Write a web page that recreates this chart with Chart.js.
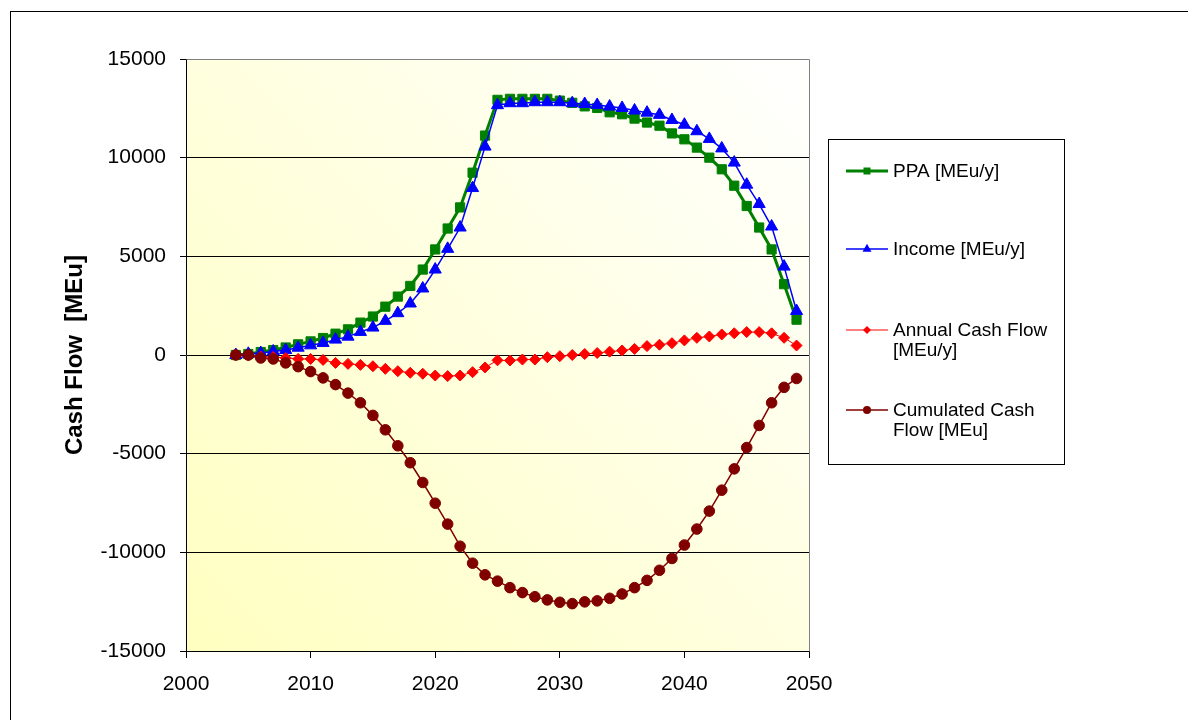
<!DOCTYPE html>
<html>
<head>
<meta charset="utf-8">
<title>Cash Flow</title>
<script src="https://cdn.jsdelivr.net/npm/chart.js@4.4.1/dist/chart.umd.min.js"></script>
<style>
  html, body { margin: 0; padding: 0; background: #ffffff; }
  #wrap { position: relative; width: 1188px; height: 720px; overflow: hidden; }
  #frame { position: absolute; left: 10px; top: 11px; width: 1300px; height: 800px;
           border-left: 1px solid #000; border-top: 1px solid #000; }
  #c { position: absolute; left: 0; top: 0; }
</style>
</head>
<body>
<div id="wrap">
  <div id="frame"></div>
  <canvas id="c" width="1188" height="720"></canvas>
</div>
<script>
// Years of the projection
const years = [
  2004, 2005, 2006, 2007, 2008, 2009, 2010, 2011, 2012, 2013,
  2014, 2015, 2016, 2017, 2018, 2019, 2020, 2021, 2022, 2023,
  2024, 2025, 2026, 2027, 2028, 2029, 2030, 2031, 2032, 2033,
  2034, 2035, 2036, 2037, 2038, 2039, 2040, 2041, 2042, 2043,
  2044, 2045, 2046, 2047, 2048, 2049
];

// PPA [MEu/y]
const ppa = [
  0, 50, 150, 250, 380, 540, 690, 860, 1080, 1300,
  1640, 1950, 2450, 2960, 3500, 4330, 5350, 6410, 7480, 9240,
  11120, 12930, 12980, 12980, 12980, 12980, 12890, 12780, 12600, 12520,
  12300, 12200, 11980, 11780, 11620, 11230, 10930, 10510, 10000, 9410,
  8580, 7550, 6460, 5350, 3590, 1790
];

// Income [MEu/y]
const income = [
  0, 60, 100, 180, 250, 370, 490, 610, 780, 930,
  1170, 1390, 1730, 2120, 2610, 3370, 4330, 5380, 6460, 8460,
  10560, 12660, 12760, 12760, 12810, 12810, 12810, 12760, 12720, 12670,
  12590, 12520, 12390, 12280, 12170, 11910, 11670, 11340, 10950, 10470,
  9750, 8630, 7650, 6510, 4480, 2230
];

// Annual Cash Flow [MEu/y]
const annualCashFlow = [
  0, -20, -80, -100, -150, -200, -200, -250, -400, -450,
  -500, -570, -700, -820, -900, -950, -1040, -1070, -1040, -870,
  -630, -270, -280, -230, -230, -110, -60, 0, 50, 100,
  170, 230, 310, 450, 520, 600, 740, 870, 940, 1040,
  1100, 1160, 1160, 1100, 870, 480
];

// Cumulated Cash Flow [MEu]
const cumulatedCashFlow = [
  0, 0, -150, -200, -400, -590, -840, -1160, -1500, -1930,
  -2420, -3060, -3790, -4600, -5460, -6460, -7510, -8570, -9690, -10550,
  -11140, -11460, -11790, -12040, -12250, -12410, -12530, -12600, -12510, -12460,
  -12330, -12110, -11790, -11420, -10910, -10310, -9630, -8820, -7910, -6850,
  -5770, -4690, -3570, -2420, -1640, -1190
];

// Axis ranges and tick steps
const xTicks = [2000, 2010, 2020, 2030, 2040, 2050];
const yTicks = [-15000, -10000, -5000, 0, 5000, 10000, 15000];

const seriesNames = ['PPA [MEu/y]', 'Income [MEu/y]', 'Annual Cash Flow [MEu/y]', 'Cumulated Cash Flow [MEu]'];
const legendText = [['PPA [MEu/y]'], ['Income [MEu/y]'], ['Annual Cash Flow', '[MEu/y]'], ['Cumulated Cash', 'Flow [MEu]']];

const FONT = '"Liberation Sans", Arial, Helvetica, sans-serif';

function toPoints(values) {
  return years.map((yr, i) => ({ x: yr, y: values[i] }));
}

// Diagonal pale-yellow fill behind the plot, plus gray frame on top/right
const plotBackground = {
  id: 'plotBackground',
  beforeDraw(chart) {
    const { ctx, chartArea: a } = chart;
    const g = ctx.createLinearGradient(a.left, a.bottom, a.right, a.top);
    g.addColorStop(0, '#ffffc0');
    g.addColorStop(1, '#ffffff');
    ctx.save();
    ctx.fillStyle = g;
    ctx.fillRect(a.left, a.top, a.right - a.left, a.bottom - a.top);
    ctx.restore();
  },
  beforeDatasetsDraw(chart) {
    const { ctx, chartArea: a } = chart;
    ctx.save();
    ctx.strokeStyle = '#808080';
    ctx.lineWidth = 1;
    ctx.beginPath();
    ctx.moveTo(Math.round(a.left) + 0.5, Math.round(a.top) + 0.5);
    ctx.lineTo(Math.round(a.right) + 0.5, Math.round(a.top) + 0.5);
    ctx.lineTo(Math.round(a.right) + 0.5, Math.round(a.bottom) + 0.5);
    ctx.stroke();
    ctx.restore();
  }
};

function drawMarker(ctx, style, x, y, r) {
  ctx.beginPath();
  if (style === 'rect') {
    ctx.rect(x - r, y - r, 2 * r, 2 * r);
  } else if (style === 'triangle') {
    ctx.moveTo(x, y - r * 1.15);
    ctx.lineTo(x + r, y + r * 0.6);
    ctx.lineTo(x - r, y + r * 0.6);
    ctx.closePath();
  } else if (style === 'rectRot') {
    ctx.moveTo(x, y - r);
    ctx.lineTo(x + r, y);
    ctx.lineTo(x, y + r);
    ctx.lineTo(x - r, y);
    ctx.closePath();
  } else {
    ctx.arc(x, y, r, 0, Math.PI * 2);
  }
  ctx.fill();
}

// Boxed legend to the right of the plot
const boxedLegend = {
  id: 'boxedLegend',
  afterDraw(chart) {
    const { ctx } = chart;
    const box = { x: 828.5, y: 139.5, w: 236, h: 325 };
    const rows = [171, 249, 330, 410];
    const markerR = [3.5, 4.5, 4, 4];
    ctx.save();
    ctx.fillStyle = '#ffffff';
    ctx.fillRect(box.x, box.y, box.w, box.h);
    ctx.strokeStyle = '#000000';
    ctx.lineWidth = 1;
    ctx.strokeRect(box.x, box.y, box.w, box.h);
    chart.data.datasets.forEach((ds, i) => {
      const y = rows[i];
      ctx.strokeStyle = ds.borderColor;
      ctx.lineWidth = ds.borderWidth;
      ctx.beginPath();
      ctx.moveTo(846, y);
      ctx.lineTo(888, y);
      ctx.stroke();
      ctx.fillStyle = ds.pointBackgroundColor;
      drawMarker(ctx, ds.pointStyle, 867, y, markerR[i]);
      ctx.fillStyle = '#000000';
      ctx.font = '19px ' + FONT;
      ctx.textAlign = 'left';
      ctx.textBaseline = 'middle';
      legendText[i].forEach((line, k) => {
        ctx.fillText(line, 893, y + 1 + k * 20);
      });
    });
    ctx.restore();
  }
};

const chart = new Chart(document.getElementById('c'), {
  type: 'line',
  data: {
    datasets: [
      {
        label: seriesNames[0], data: toPoints(ppa),
        borderColor: '#008000', backgroundColor: '#008000', borderWidth: 3,
        pointStyle: 'rect', pointRadius: 6.5, pointBackgroundColor: '#008000',
        pointBorderColor: '#008000', pointBorderWidth: 1, order: 4
      },
      {
        label: seriesNames[1], data: toPoints(income),
        borderColor: '#0000ff', backgroundColor: '#0000ff', borderWidth: 1.5,
        pointStyle: 'triangle', pointRadius: 7, pointBackgroundColor: '#0000ff',
        pointBorderColor: '#0000ff', pointBorderWidth: 1, order: 3
      },
      {
        label: seriesNames[2], data: toPoints(annualCashFlow),
        borderColor: '#ff0000', backgroundColor: '#ff0000', borderWidth: 1,
        pointStyle: 'rectRot', pointRadius: 5.5, pointBackgroundColor: '#ff0000',
        pointBorderColor: '#ff0000', pointBorderWidth: 1, order: 2
      },
      {
        label: seriesNames[3], data: toPoints(cumulatedCashFlow),
        borderColor: '#800000', backgroundColor: '#800000', borderWidth: 1.5,
        pointStyle: 'circle', pointRadius: 5.3, pointBackgroundColor: '#800000',
        pointBorderColor: '#800000', pointBorderWidth: 1, order: 1
      }
    ]
  },
  options: {
    responsive: false,
    animation: false,
    devicePixelRatio: 1,
    layout: { padding: { top: 59, right: 379, bottom: 0, left: 0 } },
    elements: { line: { tension: 0 } },
    plugins: {
      legend: { display: false },
      tooltip: { enabled: false }
    },
    scales: {
      x: {
        type: 'linear',
        min: xTicks[0], max: xTicks[xTicks.length - 1],
        afterBuildTicks(scale) { scale.ticks = xTicks.map(v => ({ value: v })); },
        afterFit(scale) { scale.height = 69; scale.paddingLeft = 0; scale.paddingRight = 0; },
        grid: { drawOnChartArea: false, drawTicks: true, tickLength: 7, color: '#000000' },
        border: { display: true, color: '#000000', width: 1 },
        ticks: {
          color: '#000000', padding: 14, maxRotation: 0,
          font: { family: FONT, size: 21 },
          callback: v => String(v)
        }
      },
      y: {
        min: yTicks[0], max: yTicks[yTicks.length - 1],
        afterBuildTicks(scale) { scale.ticks = yTicks.map(v => ({ value: v })); },
        afterFit(scale) { scale.width = 186; scale.paddingTop = 0; scale.paddingBottom = 0; },
        grid: { drawOnChartArea: true, drawTicks: true, tickLength: 6, color: '#000000', lineWidth: 1 },
        border: { display: true, color: '#000000', width: 1 },
        ticks: {
          color: '#000000', padding: 14,
          font: { family: FONT, size: 21 },
          callback: v => String(v)
        },
        title: {
          display: true, text: 'Cash Flow  [MEu]', color: '#000000',
          font: { family: FONT, size: 24, weight: 'bold' },
          padding: { top: 61, bottom: 0 }
        }
      }
    }
  },
  plugins: [plotBackground, boxedLegend]
});
</script>
</body>
</html>
